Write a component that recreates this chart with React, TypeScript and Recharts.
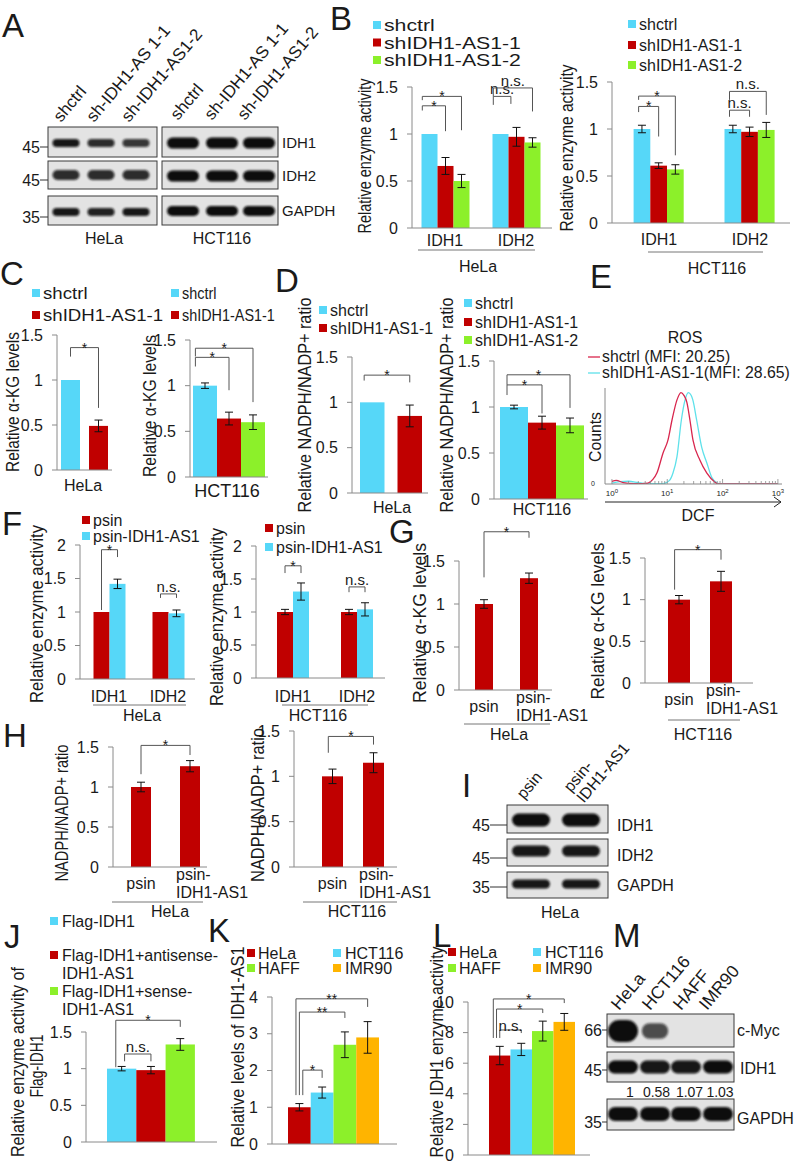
import React from 'react';
import { BarChart, Bar, XAxis, YAxis, ErrorBar, LineChart, Line } from 'recharts';

const FONT = '"Liberation Sans", Arial, Helvetica, sans-serif';
const CYAN = '#56d7f8';
const RED = '#c00000';
const GREEN = '#8cf02a';
const ORANGE = '#ffb400';
const AXIS = '#8a8a8a';
const INK = '#1a1a1a';
const BRACKET = '#555555';
const ROS_RED = '#d8264d';
const ROS_CYAN = '#5ee1ea';

// ---- categories / series ----
const idhGroups = ['IDH1', 'IDH2'];
const shSeries = ['shctrl', 'shIDH1-AS1-1', 'shIDH1-AS1-2'];
const psinSeries = ['psin', 'psin-IDH1-AS1'];
const cellLines = ['HeLa', 'HCT116', 'HAFF', 'IMR90'];
const flagLegend = [['Flag-IDH1'], ['Flag-IDH1+antisense-', 'IDH1-AS1'], ['Flag-IDH1+sense-', 'IDH1-AS1']];

const ticks15 = [0, 0.5, 1, 1.5];
const ticks2 = [0, 0.5, 1, 1.5, 2];
const ticksK = [0, 1, 2, 3, 4];
const ticksL = [0, 2, 4, 6, 8, 10];

// ---- values (mean / error), [group][series] ----
const bHelaMean = [[1.0, 0.66, 0.5], [1.0, 0.97, 0.91]];
const bHelaErr = [[0.0, 0.09, 0.07], [0.0, 0.1, 0.05]];
const bHctMean = [[1.0, 0.61, 0.57], [1.0, 0.97, 0.99]];
const bHctErr = [[0.04, 0.03, 0.05], [0.04, 0.05, 0.08]];
const cHelaMean = [[1.0, 0.49]];
const cHelaErr = [[0.0, 0.065]];
const cHctMean = [[1.0, 0.64, 0.6]];
const cHctErr = [[0.03, 0.07, 0.08]];
const dHelaMean = [[1.0, 0.85]];
const dHelaErr = [[0.0, 0.12]];
const dHctMean = [[1.0, 0.83, 0.8]];
const dHctErr = [[0.02, 0.07, 0.08]];
const fHelaMean = [[1.0, 1.42], [1.0, 0.98]];
const fHelaErr = [[0.0, 0.07], [0.0, 0.05]];
const fHctMean = [[1.0, 1.31], [1.0, 1.04]];
const fHctErr = [[0.04, 0.13], [0.04, 0.1]];
const gHelaMean = [[1.0, 1.3]];
const gHelaErr = [[0.05, 0.06]];
const gHctMean = [[1.0, 1.22]];
const gHctErr = [[0.05, 0.12]];
const hHelaMean = [[1.0, 1.26]];
const hHelaErr = [[0.06, 0.07]];
const hHctMean = [[1.0, 1.15]];
const hHctErr = [[0.08, 0.11]];
const jMean = [[1.0, 0.98, 1.33]];
const jErr = [[0.03, 0.05, 0.08]];
const kMean = [[1.0, 1.4, 2.7, 2.9]];
const kErr = [[0.1, 0.15, 0.35, 0.43]];
const lMean = [[6.5, 6.9, 8.1, 8.7]];
const lErr = [[0.6, 0.4, 0.65, 0.55]];

// ---- ROS flow histogram (DCF intensity, % of max counts) ----
const rosCtrlDcf = [1, 1.2, 1.6, 2.5, 3.5, 4.5, 5.5, 6.5, 8.4, 10.3, 12.2, 15, 17.7, 20, 22.7, 25.7, 29.2, 39, 52, 73, 83, 150, 400, 1000];
const rosCtrlCounts = [3, 4, 1.5, 0.5, 0.5, 1, 5, 12, 34, 48, 70, 92, 100, 97, 89, 70, 48, 26, 12, 2, 0, 0, 0, 0];
const rosKdDcf = [1, 1.4, 2, 3, 4, 6, 8.4, 11, 12.7, 15, 18, 21, 24, 27, 29, 34, 42, 52, 64, 80, 90, 150, 400, 1000];
const rosKdCounts = [1, 2.5, 3, 1.5, 0.5, 0.5, 0.5, 4, 12, 30, 70, 92, 100, 97, 92, 70, 40, 23, 7, 1, 0, 0.5, 0.5, 0];
const rosTicks = [1, 2, 3, 4, 5, 6, 7, 8, 9, 10, 20, 30, 40, 50, 60, 70, 80, 90, 100, 200, 300, 400, 500, 600, 700, 800, 900, 1000];

// ---- western blot band strengths [row][lane] ----
const aHelaBands = [[0.95, 0.85, 0.8], [0.85, 0.85, 0.85], [0.95, 0.9, 0.95]];
const aHctBands = [[1, 1, 1], [1, 1, 1], [1, 1, 1]];
const iBands = [[1, 1], [0.95, 0.95], [0.95, 0.95]];
const mBands = [[1, 0.7, 0, 0], [1, 0.95, 0.95, 1], [1, 1, 1, 1]];
const mIdh1Quant = ['1', '0.58', '1.07', '1.03'];
const shLanes = ['shctrl', 'sh-IDH1-AS 1-1', 'sh-IDH1-AS1-2'];

const YW = 50;
const MT = 70;
const MR = 70;
const XH = 50;

type Bracket = { g?: number; a: number; b: number; y: number; ya: number; yb: number; text: string; dxa?: number; dxb?: number; dy?: number };

type PanelSpec = {
  x0: number; x1: number; yTop: number; yZero: number; yMax: number; ticks: number[];
  groups: string[]; colors: string[]; mean: number[][]; err: number[][];
  barW: number; barGap?: number; firstBar: number; lastBar: number;
  brackets?: Bracket[]; tick?: 'group' | 'split' | 'none'; tickDy?: number; splitLabels?: string[];
};

const splitLabel = (s: string) => {
  const i = s.indexOf('-');
  return i > 0 && i < s.length - 1 ? [s.slice(0, i + 1), s.slice(i + 1)] : [s];
};

function BarPanel(p: PanelSpec) {
  const s = p.mean[0].length;
  const n = p.groups.length;
  const gap = p.barGap ?? 0;
  const step = p.barW + gap;
  const groupW = s * p.barW + (s - 1) * gap;
  const c0 = p.firstBar + groupW / 2;
  const cN = p.lastBar - groupW / 2;
  const band = n > 1 ? (cN - c0) / (n - 1) : 2 * Math.min(c0 - p.x0, p.x1 - c0);
  const padL = c0 - band / 2 - p.x0;
  const padR = p.x1 - (cN + band / 2);
  const plotW = p.x1 - p.x0;
  const plotH = p.yZero - p.yTop;

  const rows = p.groups.map((name, gi) => {
    const row: Record<string, any> = { name };
    p.mean[gi].forEach((v, si) => {
      row[`v${si}`] = v;
      row[`e${si}`] = p.err[gi][si];
    });
    return row;
  });

  const shapeFor = (si: number) => (props: any) => {
    const { x, y, width, height, payload } = props;
    const gi = Math.max(0, p.groups.indexOf(payload?.name));
    const value = p.mean[gi][si];
    const base = y + height;
    const k = value ? height / value : 0;
    const cx = x + width / 2;
    const own = (p.brackets ?? []).filter((br) => (br.g ?? 0) === gi && br.b === si);
    return (
      <g>
        <rect x={x} y={y} width={width} height={height} fill={p.colors[si]} />
        {own.map((br, i) => {
          const xa = cx - (br.b - br.a) * step + (br.dxa ?? 0) * width;
          const xb = cx + (br.dxb ?? 0) * width;
          const yl = base - br.y * k;
          const ns = br.text === 'n.s.';
          return (
            <g key={i}>
              <path d={`M${xa},${base - br.ya * k}V${yl}H${xb}V${base - br.yb * k}`} fill="none" stroke={BRACKET} strokeWidth={1} />
              <text x={(xa + xb) / 2} y={yl + (br.dy ?? (ns ? -2 : 5))} textAnchor="middle" fontSize={ns ? 15 : 14} fill={INK} fontFamily={FONT}>
                {br.text}
              </text>
            </g>
          );
        })}
      </g>
    );
  };

  const renderTick = (props: any) => {
    const { x, y, payload } = props;
    if (p.tick === 'group') {
      return (
        <text x={x} y={y + (p.tickDy ?? 20)} textAnchor="middle" fontSize={16} fill={INK} fontFamily={FONT}>
          {payload.value}
        </text>
      );
    }
    if (p.tick === 'split' && p.splitLabels) {
      return (
        <g>
          {p.splitLabels.map((lab, si) => {
            const bx = x + (si - (s - 1) / 2) * step;
            const lines = splitLabel(lab);
            if (lines.length === 1) {
              return (
                <text key={si} x={bx} y={y + 22} textAnchor="middle" fontSize={16} fill={INK} fontFamily={FONT}>
                  {lines[0]}
                </text>
              );
            }
            const lx = bx - p.barW / 2 - 4;
            return (
              <text key={si} x={lx} y={y + 13} textAnchor="start" fontSize={16} fill={INK} fontFamily={FONT}>
                {lines.map((l, li) => (
                  <tspan key={li} x={lx} dy={li ? 18 : 0}>{l}</tspan>
                ))}
              </text>
            );
          })}
        </g>
      );
    }
    return <g />;
  };

  return (
    <div style={{ position: 'absolute', left: p.x0 - YW, top: p.yTop - MT }}>
      <BarChart width={YW + plotW + MR} height={MT + plotH + XH} data={rows} margin={{ top: MT, right: MR, bottom: 0, left: 0 }} barGap={gap} barSize={p.barW}>
        <XAxis dataKey="name" type="category" interval={0} padding={{ left: padL, right: padR }} axisLine={{ stroke: AXIS }} tickLine={false} tickSize={0} tickMargin={0} height={XH} tick={p.tick === 'none' ? false : renderTick} />
        <YAxis type="number" width={YW} domain={[0, p.yMax]} ticks={p.ticks} interval={0} axisLine={{ stroke: AXIS }} tickLine={{ stroke: AXIS }} tickSize={5} tickMargin={9} tick={{ fontSize: 16, fill: INK, fontFamily: FONT }} />
        {p.colors.slice(0, s).map((c, si) => (
          <Bar key={si} dataKey={`v${si}`} fill={c} isAnimationActive={false} shape={shapeFor(si)}>
            <ErrorBar dataKey={`e${si}`} width={4} stroke="#111" strokeWidth={1} direction="y" />
          </Bar>
        ))}
      </BarChart>
    </div>
  );
}

const renderRosTick = (props: any) => {
  const { x, y, payload } = props;
  const v = payload.value;
  const lg = Math.log10(v);
  const exp = Math.round(lg);
  const major = Math.abs(lg - exp) < 1e-6;
  return (
    <g>
      <line x1={x} x2={x} y1={y} y2={y - (major ? 5 : 3)} stroke={AXIS} strokeWidth={0.8} />
      {major && (
        <text x={x} y={y + 12} fontSize={8} textAnchor="middle" fill={INK} fontFamily={FONT}>
          10<tspan dy={-3} fontSize={6}>{exp}</tspan>
        </text>
      )}
    </g>
  );
};

function RosPanel() {
  const x0 = 605, x1 = 782, yTop = 388, yZero = 484, top = 6, right = 12;
  const ctrl = rosCtrlDcf.map((x, i) => ({ x, y: rosCtrlCounts[i] }));
  const kd = rosKdDcf.map((x, i) => ({ x, y: rosKdCounts[i] }));
  return (
    <div style={{ position: 'absolute', left: x0 - YW, top: yTop - top }}>
      <LineChart width={YW + x1 - x0 + right} height={top + yZero - yTop + 22} margin={{ top, right, bottom: 0, left: 0 }}>
        <XAxis dataKey="x" type="number" scale="log" domain={[0.75, 1186]} allowDataOverflow ticks={rosTicks} interval={0} axisLine={{ stroke: AXIS }} tickLine={false} tickSize={0} tickMargin={0} height={22} tick={renderRosTick} />
        <YAxis type="number" domain={[0, 105]} allowDataOverflow ticks={[0]} width={YW} axisLine={{ stroke: AXIS }} tickLine={false} tickMargin={4} tick={{ fontSize: 7, fill: INK, fontFamily: FONT }} />
        <Line data={kd} dataKey="y" type="monotone" stroke={ROS_CYAN} strokeWidth={1.3} dot={false} isAnimationActive={false} />
        <Line data={ctrl} dataKey="y" type="monotone" stroke={ROS_RED} strokeWidth={1.3} dot={false} isAnimationActive={false} />
      </LineChart>
    </div>
  );
}

type BlotRow = { top: number; bottom: number; cy: number; h: number; levels: number[]; scale?: boolean };

function Blot({ x0, x1, lanes, bandW, rows }: { x0: number; x1: number; lanes: number[]; bandW: number; rows: BlotRow[] }) {
  return (
    <g>
      {rows.map((r, ri) => (
        <g key={ri}>
          <rect x={x0} y={r.top} width={x1 - x0} height={r.bottom - r.top} fill="#e3e3e3" stroke="#3a3a3a" strokeWidth={1} />
          {lanes.map((lx, li) => {
            const lv = r.levels[li];
            if (lv <= 0) return null;
            const w = r.scale ? bandW * (0.6 + 0.4 * lv) : bandW;
            const h = r.scale ? r.h * lv : r.h;
            return <rect key={li} x={lx - w / 2} y={r.cy - h / 2} width={w} height={h} rx={h / 2} fill="#0d0d0d" opacity={Math.min(1, lv)} filter="url(#bandBlur)" />;
          })}
        </g>
      ))}
    </g>
  );
}

const T = (props: any) => <text fontFamily={FONT} fill={INK} {...props} />;

function YLabel({ cx, cy, len, text, fs = 18 }: { cx: number; cy: number; len: number; text: string; fs?: number }) {
  return (
    <T transform={`translate(${cx},${cy}) rotate(-90)`} textAnchor="middle" dominantBaseline="central" fontSize={fs} textLength={len} lengthAdjust="spacingAndGlyphs">
      {text}
    </T>
  );
}

function Legend({ x, rows, labels, colors, fs = 16, sx = 1 }: { x: number; rows: number[]; labels: string[]; colors: string[]; fs?: number; sx?: number }) {
  return (
    <g>
      {labels.map((lab, i) => (
        <g key={i}>
          <rect x={x} y={rows[i] - 4} width={8} height={8} fill={colors[i]} />
          <T transform={`translate(${x + 11},${rows[i] + fs * 0.355}) scale(${sx},1)`} fontSize={fs}>{lab}</T>
        </g>
      ))}
    </g>
  );
}

function Lane({ x, y, text, fs = 16, lines }: { x: number; y: number; text?: string; fs?: number; lines?: string[] }) {
  return (
    <T transform={`translate(${x},${y}) rotate(-50)`} fontSize={fs}>
      {lines ? lines.map((l, i) => <tspan key={i} x={0} dy={i ? fs * 1.05 : 0}>{l}</tspan>) : text}
    </T>
  );
}

const Under = ({ x1, x2, y }: { x1: number; x2: number; y: number }) => <line x1={x1} x2={x2} y1={y} y2={y} stroke="#777" strokeWidth={1} />;

export default function App() {
  const letters: [string, number, number][] = [
    ['A', 2, 37], ['B', 330, 30], ['C', 0, 285], ['D', 275, 292], ['E', 590, 288], ['F', 2, 535], ['G', 389, 543],
    ['H', 3, 747], ['I', 462, 797], ['J', 4, 948], ['K', 208, 942], ['L', 433, 947], ['M', 613, 947],
  ];
  return (
    <div style={{ position: 'absolute', left: 0, top: 0, width: 796, height: 1166, background: '#fff', overflow: 'hidden', fontFamily: FONT }}>
      <svg width={796} height={1166} style={{ position: 'absolute', left: 0, top: 0 }}>
        <defs>
          <filter id="bandBlur" x="-20%" y="-60%" width="140%" height="220%">
            <feGaussianBlur stdDeviation="1.3" />
          </filter>
        </defs>
        {letters.map(([l, x, y]) => (
          <T key={l} x={x} y={y} fontSize={33}>{l}</T>
        ))}

        {/* A */}
        {shLanes.map((t, i) => <Lane key={`ah${i}`} x={[61, 94, 129][i]} y={123} text={t} fs={17} />)}
        {shLanes.map((t, i) => <Lane key={`ac${i}`} x={[178, 212, 245][i]} y={121} text={t} fs={17} />)}
        <Blot x0={48} x1={157} lanes={[66, 101, 136]} bandW={27} rows={[
          { top: 127, bottom: 157, cy: 143, h: 8, levels: aHelaBands[0] },
          { top: 161, bottom: 189, cy: 175, h: 10, levels: aHelaBands[1] },
          { top: 196, bottom: 225, cy: 212, h: 8, levels: aHelaBands[2] },
        ]} />
        <Blot x0={162} x1={278} lanes={[183, 222, 259]} bandW={32} rows={[
          { top: 127, bottom: 157, cy: 143, h: 11, levels: aHctBands[0] },
          { top: 161, bottom: 189, cy: 176, h: 11, levels: aHctBands[1] },
          { top: 196, bottom: 225, cy: 211, h: 10, levels: aHctBands[2] },
        ]} />
        {[['45', 153, 147], ['45', 186, 180], ['35', 223, 217]].map(([t, y, ty], i) => (
          <g key={`amw${i}`}>
            <T x={40} y={y} fontSize={16} textAnchor="end">{t}</T>
            <line x1={40} x2={48} y1={ty as number} y2={ty as number} stroke="#333" />
          </g>
        ))}
        <T x={282} y={148} fontSize={15}>IDH1</T>
        <T x={282} y={181} fontSize={15}>IDH2</T>
        <T x={282} y={216} fontSize={15}>GAPDH</T>
        <T x={104} y={244} fontSize={16} textAnchor="middle">HeLa</T>
        <T x={222} y={244} fontSize={16} textAnchor="middle">HCT116</T>

        {/* B */}
        <Legend x={373} rows={[25, 42.5, 60]} labels={shSeries} colors={[CYAN, RED, GREEN]} fs={17} sx={1.25} />
        <Legend x={628} rows={[24, 45, 65]} labels={shSeries} colors={[CYAN, RED, GREEN]} />
        <YLabel cx={365} cy={156} len={155} text="Relative enzyme activity" />
        <YLabel cx={567} cy={148} len={167} text="Relative enzyme activity" />
        <Under x1={418} x2={535} y={250} />
        <T x={478} y={272} fontSize={16} textAnchor="middle">HeLa</T>
        <Under x1={648} x2={763} y={252} />
        <T x={717} y={274} fontSize={16} textAnchor="middle">HCT116</T>

        {/* C */}
        <Legend x={32} rows={[293, 315]} labels={shSeries.slice(0, 2)} colors={[CYAN, RED]} fs={16.5} sx={1.13} />
        <Legend x={171} rows={[293, 315]} labels={shSeries.slice(0, 2)} colors={[CYAN, RED]} fs={16} sx={0.9} />
        <YLabel cx={13} cy={402} len={140} text="Relative α-KG  levels" />
        <YLabel cx={150} cy={406} len={142} text="Relative α-KG  levels" />
        <T x={83} y={491} fontSize={16} textAnchor="middle">HeLa</T>
        <T x={227} y={497} fontSize={18} textAnchor="middle">HCT116</T>

        {/* D */}
        <Legend x={319} rows={[310, 328]} labels={shSeries.slice(0, 2)} colors={[CYAN, RED]} />
        <Legend x={464} rows={[303, 322, 340]} labels={shSeries} colors={[CYAN, RED, GREEN]} />
        <YLabel cx={305} cy={405} len={215} text="Relative NADPH/NADP+ ratio" />
        <YLabel cx={447} cy={405} len={215} text="Relative NADPH/NADP+ ratio" />
        <T x={392} y={513} fontSize={16} textAnchor="middle">HeLa</T>
        <T x={542} y={515} fontSize={16} textAnchor="middle">HCT116</T>

        {/* E */}
        <T x={685} y={343} fontSize={16} textAnchor="middle">ROS</T>
        <line x1={588} x2={600} y1={357} y2={357} stroke={ROS_RED} strokeWidth={1.3} />
        <T x={602} y={362} fontSize={15.8}>shctrl (MFI: 20.25)</T>
        <line x1={588} x2={600} y1={373} y2={373} stroke={ROS_CYAN} strokeWidth={1.3} />
        <T x={602} y={378} fontSize={15.8}>shIDH1-AS1-1(MFI: 28.65)</T>
        <YLabel cx={595} cy={437} len={50} text="Counts" fs={17} />
        <line x1={605} x2={781} y1={502} y2={502} stroke="#222" strokeWidth={1} />
        <polyline points="774,497 781,502 774,507" fill="none" stroke="#222" strokeWidth={1} />
        <T x={698} y={521} fontSize={16} textAnchor="middle">DCF</T>

        {/* F */}
        <Legend x={82} rows={[520, 536]} labels={psinSeries} colors={[RED, CYAN]} />
        <Legend x={265} rows={[528, 547]} labels={psinSeries} colors={[RED, CYAN]} />
        <YLabel cx={37} cy={614} len={178} text="Relative enzyme activity" />
        <YLabel cx={217} cy={617} len={178} text="Relative enzyme activity" />
        <Under x1={93} x2={186} y={705} />
        <T x={142} y={721} fontSize={16} textAnchor="middle">HeLa</T>
        <Under x1={282} x2={368} y={705} />
        <T x={318} y={721} fontSize={16} textAnchor="middle">HCT116</T>

        {/* G */}
        <YLabel cx={420} cy={623} len={160} text="Relative α-KG  levels" />
        <YLabel cx={598} cy={621} len={157} text="Relative α-KG  levels" />
        <Under x1={464} x2={550} y={724} />
        <T x={509} y={740} fontSize={16} textAnchor="middle">HeLa</T>
        <Under x1={668} x2={740} y={720} />
        <T x={703} y={740} fontSize={16} textAnchor="middle">HCT116</T>

        {/* H */}
        <YLabel cx={62} cy={813} len={137} text="NADPH/NADP+ ratio" />
        <YLabel cx={258} cy={805} len={154} text="NADPH/NADP+ ratio" />
        <Under x1={112} x2={203} y={902} />
        <T x={170} y={917} fontSize={16} textAnchor="middle">HeLa</T>
        <Under x1={303} x2={397} y={902} />
        <T x={357} y={917} fontSize={16} textAnchor="middle">HCT116</T>

        {/* I */}
        <Lane x={524} y={800} text={psinSeries[0]} />
        <Lane x={571} y={793} lines={splitLabel(psinSeries[1])} />
        <Blot x0={507} x1={608} lanes={[531, 581]} bandW={38} rows={[
          { top: 805, bottom: 833, cy: 820, h: 13, levels: iBands[0] },
          { top: 839, bottom: 866, cy: 851, h: 11, levels: iBands[1] },
          { top: 872, bottom: 898, cy: 884, h: 9, levels: iBands[2] },
        ]} />
        {[['45', 831, 825], ['45', 864, 858], ['35', 893, 887]].map(([t, y, ty], i) => (
          <g key={`imw${i}`}>
            <T x={490} y={y} fontSize={16} textAnchor="end">{t}</T>
            <line x1={490} x2={507} y1={ty as number} y2={ty as number} stroke="#333" />
          </g>
        ))}
        <T x={617} y={831} fontSize={16}>IDH1</T>
        <T x={617} y={861} fontSize={16}>IDH2</T>
        <T x={617} y={891} fontSize={16}>GAPDH</T>
        <T x={560} y={918} fontSize={16} textAnchor="middle">HeLa</T>

        {/* J */}
        {flagLegend.map((lines, i) => (
          <g key={`jl${i}`}>
            <rect x={50} y={[921, 955, 991][i] - 4} width={8} height={8} fill={[CYAN, RED, GREEN][i]} />
            {lines.map((l, li) => (
              <T key={li} x={62} y={[921, 955, 991][i] + 5.5 + li * 18} fontSize={16}>{l}</T>
            ))}
          </g>
        ))}
        <YLabel cx={18} cy={1062} len={190} text="Relative enzyme activity of" />
        <YLabel cx={37} cy={1066} len={63} text="Flag-IDH1" />

        {/* K, L */}
        {[0, 1, 2, 3].map((i) => (
          <g key={`kl${i}`}>
            <rect x={[247, 333, 247, 333][i]} y={[953, 953, 968, 968][i] - 4} width={8} height={8} fill={[RED, CYAN, GREEN, ORANGE][i]} />
            <T x={[258, 345, 258, 345][i]} y={[953, 953, 968, 968][i] + 5.5} fontSize={16}>{cellLines[i]}</T>
            <rect x={[448, 533, 448, 533][i]} y={[952, 952, 968, 968][i] - 4} width={8} height={8} fill={[RED, CYAN, GREEN, ORANGE][i]} />
            <T x={[459, 545, 459, 545][i]} y={[952, 952, 968, 968][i] + 5.5} fontSize={16}>{cellLines[i]}</T>
          </g>
        ))}
        <YLabel cx={238} cy={1047} len={201} text="Relative levels of IDH1-AS1" />
        <YLabel cx={437} cy={1052} len={211} text="Relative IDH1 enzyme activity" />

        {/* M */}
        {cellLines.map((t, i) => <Lane key={`ml${i}`} x={[619, 650, 681, 707][i]} y={1011} text={t} fs={17.5} />)}
        <Blot x0={607} x1={734} lanes={[623, 655, 686, 718]} bandW={30} rows={[
          { top: 1014, bottom: 1047, cy: 1031, h: 22, levels: mBands[0], scale: true },
          { top: 1052, bottom: 1082, cy: 1067, h: 13, levels: mBands[1] },
          { top: 1099, bottom: 1130, cy: 1114, h: 14, levels: mBands[2] },
        ]} />
        {[['66', 1036, 1030], ['45', 1076, 1070], ['35', 1128, 1122]].map(([t, y, ty], i) => (
          <g key={`mmw${i}`}>
            <T x={602} y={y} fontSize={16} textAnchor="end">{t}</T>
            <line x1={602} x2={607} y1={ty as number} y2={ty as number} stroke="#333" />
          </g>
        ))}
        <T x={737} y={1036} fontSize={16}>c-Myc</T>
        <T x={740} y={1074} fontSize={16}>IDH1</T>
        <T x={737} y={1124} fontSize={16}>GAPDH</T>
        {mIdh1Quant.map((q, i) => (
          <T key={`mq${i}`} x={[630, 656.5, 689.5, 720][i]} y={1097} fontSize={14} textAnchor="middle">{q}</T>
        ))}
      </svg>

      <BarPanel x0={412} x1={552} yTop={87} yZero={228} yMax={1.5} ticks={ticks15} groups={idhGroups} colors={[CYAN, RED, GREEN]}
        mean={bHelaMean} err={bHelaErr} barW={16} firstBar={421} lastBar={540} tick="group" tickDy={18}
        brackets={[
          { g: 0, a: 0, b: 1, y: 1.3, ya: 1.25, yb: 1.03, text: '*', dxa: -0.45 },
          { g: 0, a: 0, b: 2, y: 1.4, ya: 1.36, yb: 1.04, text: '*', dxa: -0.45 },
          { g: 1, a: 0, b: 1, y: 1.4, ya: 1.31, yb: 1.32, text: 'n.s.', dxa: -0.45, dxb: -0.35 },
          { g: 1, a: 0, b: 2, y: 1.49, ya: 1.4, yb: 1.24, text: 'n.s.', dxa: -0.45 },
        ]} />
      <BarPanel x0={612} x1={790} yTop={82} yZero={223} yMax={1.5} ticks={ticks15} groups={idhGroups} colors={[CYAN, RED, GREEN]}
        mean={bHctMean} err={bHctErr} barW={16.7} firstBar={634} lastBar={775} tick="group" tickDy={22}
        brackets={[
          { g: 0, a: 0, b: 1, y: 1.24, ya: 1.18, yb: 0.92, text: '*', dxa: -0.2 },
          { g: 0, a: 0, b: 2, y: 1.35, ya: 1.31, yb: 0.72, text: '*', dxa: -0.2 },
          { g: 1, a: 0, b: 1, y: 1.2, ya: 1.13, yb: 1.13, text: 'n.s.', dxa: -0.2 },
          { g: 1, a: 0, b: 2, y: 1.4, ya: 1.31, yb: 1.15, text: 'n.s.', dxa: -0.2 },
        ]} />
      <BarPanel x0={57} x1={112} yTop={335} yZero={470} yMax={1.5} ticks={ticks15} groups={['HeLa']} colors={[CYAN, RED]}
        mean={cHelaMean} err={cHelaErr} barW={19} barGap={9} firstBar={61} lastBar={108} tick="none"
        brackets={[{ a: 0, b: 1, y: 1.36, ya: 1.26, yb: 0.69, text: '*' }]} />
      <BarPanel x0={190} x1={268} yTop={340} yZero={477} yMax={1.5} ticks={ticks15} groups={['HCT116']} colors={[CYAN, RED, GREEN]}
        mean={cHctMean} err={cHctErr} barW={24} firstBar={193} lastBar={265} tick="none"
        brackets={[
          { a: 0, b: 1, y: 1.31, ya: 1.21, yb: 0.95, text: '*', dxa: -0.4 },
          { a: 0, b: 2, y: 1.41, ya: 1.32, yb: 0.82, text: '*', dxa: -0.4 },
        ]} />
      <BarPanel x0={352} x1={428} yTop={357} yZero={493} yMax={1.5} ticks={ticks15} groups={['HeLa']} colors={[CYAN, RED]}
        mean={dHelaMean} err={dHelaErr} barW={24.5} barGap={13} firstBar={360} lastBar={422} tick="none"
        brackets={[{ a: 0, b: 1, y: 1.3, ya: 1.24, yb: 1.22, text: '*', dxa: -0.33 }]} />
      <BarPanel x0={494} x1={588} yTop={361} yZero={499} yMax={1.5} ticks={ticks15} groups={['HCT116']} colors={[CYAN, RED, GREEN]}
        mean={dHctMean} err={dHctErr} barW={28} firstBar={500} lastBar={584} tick="none"
        brackets={[
          { a: 0, b: 1, y: 1.24, ya: 1.13, yb: 0.93, text: '*', dxa: -0.25 },
          { a: 0, b: 2, y: 1.35, ya: 1.24, yb: 0.99, text: '*', dxa: -0.25 },
        ]} />
      <RosPanel />
      <BarPanel x0={80} x1={195} yTop={545} yZero={679} yMax={2} ticks={ticks2} groups={idhGroups} colors={[RED, CYAN]}
        mean={fHelaMean} err={fHelaErr} barW={16} firstBar={93} lastBar={184} tick="group" tickDy={23}
        brackets={[
          { g: 0, a: 0, b: 1, y: 1.93, ya: 1.03, yb: 1.82, text: '*' },
          { g: 1, a: 0, b: 1, y: 1.27, ya: 1.21, yb: 1.21, text: 'n.s.' },
        ]} />
      <BarPanel x0={256} x1={385} yTop={546} yZero={678} yMax={2} ticks={ticks2} groups={idhGroups} colors={[RED, CYAN]}
        mean={fHctMean} err={fHctErr} barW={16} firstBar={277} lastBar={373} tick="group" tickDy={24}
        brackets={[
          { g: 0, a: 0, b: 1, y: 1.7, ya: 1.59, yb: 1.59, text: '*' },
          { g: 1, a: 0, b: 1, y: 1.38, ya: 1.3, yb: 1.3, text: 'n.s.' },
        ]} />
      <BarPanel x0={459} x1={552} yTop={561} yZero={690} yMax={1.5} ticks={ticks15} groups={['HeLa']} colors={[RED, RED]}
        mean={gHelaMean} err={gHelaErr} barW={18} barGap={27} firstBar={475} lastBar={538} tick="split" splitLabels={psinSeries}
        brackets={[{ a: 0, b: 1, y: 1.84, ya: 1.31, yb: 1.77, text: '*' }]} />
      <BarPanel x0={645} x1={753} yTop={558} yZero={683} yMax={1.5} ticks={ticks15} groups={['HCT116']} colors={[RED, RED]}
        mean={gHctMean} err={gHctErr} barW={22} barGap={20} firstBar={668} lastBar={732} tick="split" splitLabels={psinSeries}
        brackets={[{ a: 0, b: 1, y: 1.6, ya: 1.12, yb: 1.48, text: '*', dxa: -0.2 }]} />
      <BarPanel x0={113} x1={207} yTop={747} yZero={867} yMax={1.5} ticks={ticks15} groups={['HeLa']} colors={[RED, RED]}
        mean={hHelaMean} err={hHelaErr} barW={20} barGap={29} firstBar={131} lastBar={200} tick="split" splitLabels={psinSeries}
        brackets={[{ a: 0, b: 1, y: 1.52, ya: 1.16, yb: 1.4, text: '*' }]} />
      <BarPanel x0={294} x1={397} yTop={731} yZero={867} yMax={1.5} ticks={ticks15} groups={['HCT116']} colors={[RED, RED]}
        mean={hHctMean} err={hHctErr} barW={21} barGap={20} firstBar={322} lastBar={384} tick="split" splitLabels={psinSeries}
        brackets={[{ a: 0, b: 1, y: 1.44, ya: 1.26, yb: 1.35, text: '*', dxa: -0.2 }]} />
      <BarPanel x0={86} x1={217} yTop={1032} yZero={1142} yMax={1.5} ticks={ticks15} groups={['Flag-IDH1']} colors={[CYAN, RED, GREEN]}
        mean={jMean} err={jErr} barW={29.3} firstBar={107} lastBar={195} tick="none"
        brackets={[
          { a: 0, b: 1, y: 1.2, ya: 1.1, yb: 1.1, text: 'n.s.', dxa: 0.1 },
          { a: 0, b: 2, y: 1.66, ya: 1.02, yb: 1.57, text: '*', dxa: -0.2 },
        ]} />
      <BarPanel x0={272} x1={397} yTop={997} yZero={1144} yMax={4} ticks={ticksK} groups={['IDH1-AS1']} colors={[RED, CYAN, GREEN, ORANGE]}
        mean={kMean} err={kErr} barW={22.75} firstBar={288} lastBar={379} tick="none"
        brackets={[
          { a: 0, b: 1, y: 2.01, ya: 1.33, yb: 1.8, text: '*', dxa: 0.15 },
          { a: 0, b: 2, y: 3.59, ya: 1.33, yb: 3.43, text: '**' },
          { a: 0, b: 3, y: 3.95, ya: 1.33, yb: 3.73, text: '**', dxa: -0.15 },
        ]} />
      <BarPanel x0={468} x1={590} yTop={1002} yZero={1155} yMax={10} ticks={ticksL} groups={['IDH1 activity']} colors={[RED, CYAN, GREEN, ORANGE]}
        mean={lMean} err={lErr} barW={21.5} firstBar={489} lastBar={575} tick="none"
        brackets={[
          { a: 0, b: 1, y: 8.17, ya: 7.65, yb: 7.97, text: 'n.s.', dy: 1 },
          { a: 0, b: 2, y: 9.54, ya: 7.65, yb: 9.28, text: '*', dxa: -0.15 },
          { a: 0, b: 3, y: 10.2, ya: 7.65, yb: 9.93, text: '*', dxa: -0.3 },
        ]} />
    </div>
  );
}
